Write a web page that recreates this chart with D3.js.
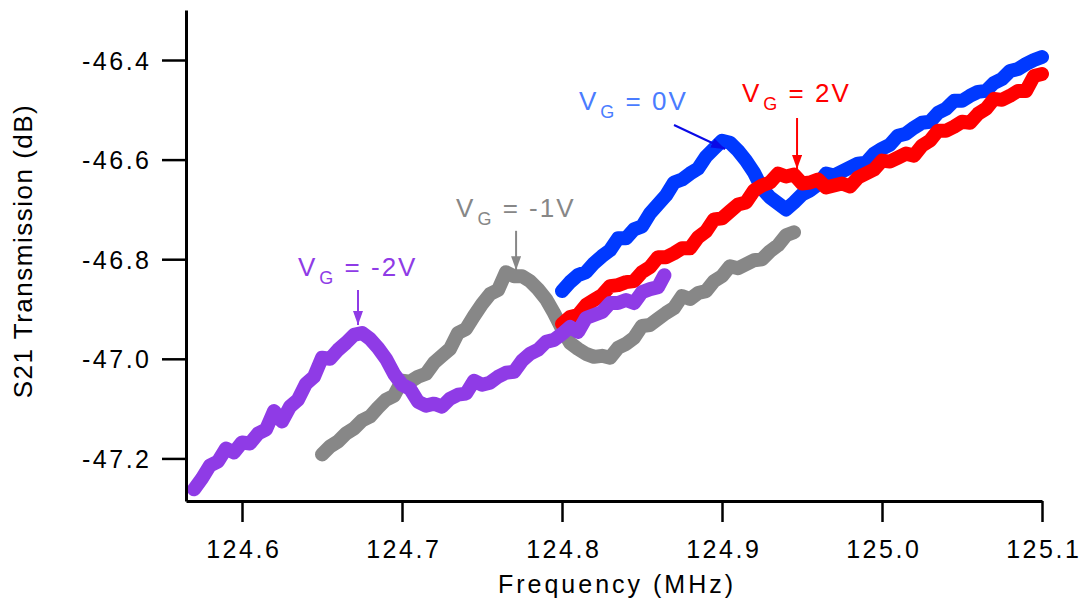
<!DOCTYPE html>
<html>
<head>
<meta charset="utf-8">
<script src="https://cdn.jsdelivr.net/npm/d3@7"></script>
<style>
  body { margin: 0; background: #fff; }
  text { font-family: "Liberation Sans", Arial, Helvetica, sans-serif; }
</style>
</head>
<body>
<svg id="chart" width="1081" height="602"></svg>
<script>
// Axis ticks
const xTicks = [124.6, 124.7, 124.8, 124.9, 125.0, 125.1];
const yTicks = [-46.4, -46.6, -46.8, -47.0, -47.2];

// S21 transmission traces, [frequency MHz, dB], one per gate voltage
const vgMinus2 = [
  [124.570,-47.262],[124.575,-47.240],[124.580,-47.214],[124.585,-47.206],[124.590,-47.180],
  [124.595,-47.188],[124.600,-47.168],[124.605,-47.170],[124.610,-47.150],[124.615,-47.142],
  [124.620,-47.105],[124.625,-47.126],[124.630,-47.096],[124.635,-47.082],[124.640,-47.050],
  [124.645,-47.036],[124.650,-46.998],[124.655,-47.000],[124.660,-46.982],[124.665,-46.968],
  [124.670,-46.952],[124.675,-46.948],[124.680,-46.960],[124.685,-46.978],[124.690,-47.000],
  [124.695,-47.030],[124.700,-47.052],[124.705,-47.060],[124.710,-47.086],[124.715,-47.094],
  [124.720,-47.090],[124.725,-47.096],[124.730,-47.080],[124.735,-47.072],[124.740,-47.070],
  [124.745,-47.044],[124.750,-47.052],[124.755,-47.048],[124.760,-47.036],[124.765,-47.028],
  [124.770,-47.026],[124.775,-47.004],[124.780,-46.990],[124.785,-46.982],[124.790,-46.966],
  [124.795,-46.962],[124.800,-46.950],[124.805,-46.936],[124.810,-46.946],[124.815,-46.918],
  [124.820,-46.912],[124.825,-46.906],[124.830,-46.888],[124.835,-46.888],[124.840,-46.882],
  [124.845,-46.888],[124.850,-46.866],[124.855,-46.860],[124.860,-46.856],[124.864,-46.832]
];
const vgMinus1 = [
  [124.650,-47.192],[124.655,-47.176],[124.660,-47.166],[124.665,-47.150],[124.670,-47.140],
  [124.675,-47.124],[124.680,-47.116],[124.685,-47.098],[124.690,-47.082],[124.695,-47.074],
  [124.700,-47.044],[124.705,-47.046],[124.710,-47.036],[124.715,-47.030],[124.720,-47.008],
  [124.725,-46.994],[124.730,-46.980],[124.735,-46.948],[124.740,-46.940],[124.745,-46.914],
  [124.750,-46.890],[124.755,-46.870],[124.760,-46.862],[124.765,-46.826],[124.770,-46.834],
  [124.775,-46.834],[124.780,-46.844],[124.785,-46.860],[124.790,-46.880],[124.795,-46.908],
  [124.800,-46.940],[124.805,-46.968],[124.810,-46.980],[124.815,-46.990],[124.820,-46.996],
  [124.825,-46.994],[124.830,-46.998],[124.835,-46.978],[124.840,-46.970],[124.845,-46.958],
  [124.850,-46.934],[124.855,-46.932],[124.860,-46.920],[124.865,-46.908],[124.870,-46.898],
  [124.875,-46.874],[124.880,-46.880],[124.885,-46.868],[124.890,-46.864],[124.895,-46.844],
  [124.900,-46.834],[124.905,-46.814],[124.910,-46.818],[124.915,-46.810],[124.920,-46.802],
  [124.925,-46.800],[124.930,-46.784],[124.935,-46.772],[124.940,-46.752],[124.945,-46.746]
];
const vg0 = [
  [124.800,-46.864],[124.805,-46.846],[124.810,-46.832],[124.815,-46.826],[124.820,-46.808],
  [124.825,-46.794],[124.830,-46.782],[124.835,-46.758],[124.840,-46.758],[124.845,-46.740],
  [124.850,-46.734],[124.855,-46.708],[124.860,-46.690],[124.865,-46.672],[124.870,-46.646],
  [124.875,-46.640],[124.880,-46.628],[124.885,-46.618],[124.890,-46.594],[124.895,-46.578],
  [124.900,-46.562],[124.905,-46.566],[124.910,-46.582],[124.915,-46.602],[124.920,-46.626],
  [124.925,-46.658],[124.930,-46.676],[124.935,-46.688],[124.940,-46.700],[124.945,-46.686],
  [124.950,-46.670],[124.955,-46.662],[124.960,-46.650],[124.965,-46.628],[124.970,-46.632],
  [124.975,-46.624],[124.980,-46.616],[124.985,-46.608],[124.990,-46.606],[124.995,-46.588],
  [125.000,-46.578],[125.005,-46.570],[125.010,-46.552],[125.015,-46.548],[125.020,-46.536],
  [125.025,-46.526],[125.030,-46.524],[125.035,-46.506],[125.040,-46.498],[125.045,-46.482],
  [125.050,-46.482],[125.055,-46.472],[125.060,-46.464],[125.065,-46.462],[125.070,-46.446],
  [125.075,-46.438],[125.080,-46.422],[125.085,-46.418],[125.090,-46.408],[125.095,-46.400],
  [125.100,-46.394]
];
const vg2 = [
  [124.800,-46.930],[124.805,-46.916],[124.810,-46.912],[124.815,-46.892],[124.820,-46.882],
  [124.825,-46.872],[124.830,-46.854],[124.835,-46.852],[124.840,-46.846],[124.845,-46.844],
  [124.850,-46.826],[124.855,-46.816],[124.860,-46.796],[124.865,-46.796],[124.870,-46.788],
  [124.875,-46.778],[124.880,-46.778],[124.885,-46.756],[124.890,-46.744],[124.895,-46.720],
  [124.900,-46.718],[124.905,-46.704],[124.910,-46.690],[124.915,-46.686],[124.920,-46.662],
  [124.925,-46.652],[124.930,-46.646],[124.935,-46.628],[124.940,-46.634],[124.945,-46.630],
  [124.950,-46.648],[124.955,-46.646],[124.960,-46.640],[124.965,-46.656],[124.970,-46.652],
  [124.975,-46.648],[124.980,-46.654],[124.985,-46.636],[124.990,-46.628],[124.995,-46.620],
  [125.000,-46.602],[125.005,-46.604],[125.010,-46.596],[125.015,-46.588],[125.020,-46.592],
  [125.025,-46.572],[125.030,-46.562],[125.035,-46.542],[125.040,-46.542],[125.045,-46.534],
  [125.050,-46.524],[125.055,-46.526],[125.060,-46.508],[125.065,-46.498],[125.070,-46.478],
  [125.075,-46.480],[125.080,-46.472],[125.085,-46.462],[125.090,-46.462],[125.095,-46.432],
  [125.100,-46.428]
];

// Drawing order: later traces sit on top
const traces = [
  { data: vgMinus1, color: "#878787" },
  { data: vg0,      color: "#0039ff" },
  { data: vg2,      color: "#ff0000" },
  { data: vgMinus2, color: "#8f3be6" }
];

// Peak annotations: label text, label anchor, arrow tail and tip (data units)
const annotations = [
  { sub: "G", rest: " = -2V", color: "#8f3be6", arrow: "#8f3be6",
    label: [124.635, -46.834], tail: [124.6725, -46.862], tip: [124.6725, -46.932] },
  { sub: "G", rest: " = -1V", color: "#878787", arrow: "#878787",
    label: [124.7338, -46.715], tail: [124.7713, -46.743], tip: [124.7713, -46.822] },
  { sub: "G", rest: " = 0V", color: "#4a7cff", arrow: "#0a0ae6",
    label: [124.8106, -46.500], tail: [124.8700, -46.5305], tip: [124.9019, -46.5787] },
  { sub: "G", rest: " = 2V", color: "#ff0000", arrow: "#ff0000",
    label: [124.9125, -46.484], tail: [124.9469, -46.5165], tip: [124.9469, -46.6189] }
];

const svg = d3.select("#chart");
const x = d3.scaleLinear().domain([124.565, 125.1]).range([186, 1042]);
const y = d3.scaleLinear().domain([-46.2996, -47.2855]).range([10, 501]);

// Traces: thick noisy bands
const line = d3.line().x(d => x(d[0])).y(d => y(d[1]));
svg.append("g").selectAll("path").data(traces).join("path")
  .attr("d", d => line(d.data))
  .attr("fill", "none")
  .attr("stroke", d => d.color)
  .attr("stroke-width", 14)
  .attr("stroke-linejoin", "round")
  .attr("stroke-linecap", "round");

// Axes
const fmt = d => d.toFixed(1);
const yAxis = svg.append("g").attr("transform", "translate(186,0)")
  .call(d3.axisLeft(y).tickValues(yTicks).tickSize(24).tickSizeOuter(0).tickFormat(fmt));
const xAxis = svg.append("g").attr("transform", "translate(0,501)")
  .call(d3.axisBottom(x).tickValues(xTicks).tickSize(21).tickSizeOuter(0).tickFormat(fmt));

[xAxis, yAxis].forEach(g => {
  g.select(".domain").attr("stroke", "#000").attr("stroke-width", 3);
  g.selectAll(".tick line").attr("stroke", "#000").attr("stroke-width", 2.5);
  g.selectAll(".tick text")
    .attr("fill", "#000")
    .style("font-size", "25px")
    .style("letter-spacing", "2.5px");
});
yAxis.selectAll(".tick text").attr("x", -34.5).attr("dy", "0.36em");
xAxis.selectAll(".tick text").attr("y", 57).attr("dy", 0).attr("dx", 1.25);

// Axis titles
svg.append("text")
  .attr("x", 617).attr("y", 593)
  .attr("text-anchor", "middle")
  .style("font-size", "25px").style("letter-spacing", "3px")
  .attr("fill", "#000")
  .text("Frequency (MHz)");

svg.append("text")
  .attr("transform", "translate(32,251) rotate(-90)")
  .attr("text-anchor", "middle")
  .style("font-size", "26px").style("letter-spacing", "1.5px")
  .attr("fill", "#000")
  .text("S21 Transmission (dB)");

// Arrow heads
const defs = svg.append("defs");
annotations.forEach((a, i) => {
  defs.append("marker")
    .attr("id", "head" + i)
    .attr("viewBox", "0 0 14 10")
    .attr("refX", 14).attr("refY", 5)
    .attr("markerWidth", 14).attr("markerHeight", 10)
    .attr("markerUnits", "userSpaceOnUse")
    .attr("orient", "auto")
    .append("path").attr("d", "M0,0L14,5L0,10Z").attr("fill", a.arrow);
});

const ann = svg.append("g").selectAll("g").data(annotations).join("g");
ann.append("line")
  .attr("x1", d => x(d.tail[0])).attr("y1", d => y(d.tail[1]))
  .attr("x2", d => x(d.tip[0])).attr("y2", d => y(d.tip[1]))
  .attr("stroke", d => d.arrow).attr("stroke-width", 2)
  .attr("marker-end", (d, i) => `url(#head${i})`);

const lbl = ann.append("text")
  .attr("x", d => x(d.label[0])).attr("y", d => y(d.label[1]))
  .attr("fill", d => d.color)
  .style("font-size", "26px").style("letter-spacing", "2px");
lbl.append("tspan").text("V");
lbl.append("tspan").attr("dy", 8).attr("dx", 2).style("font-size", "18px").text(d => d.sub);
lbl.append("tspan").attr("dy", -8).text(d => d.rest);
</script>
</body>
</html>
